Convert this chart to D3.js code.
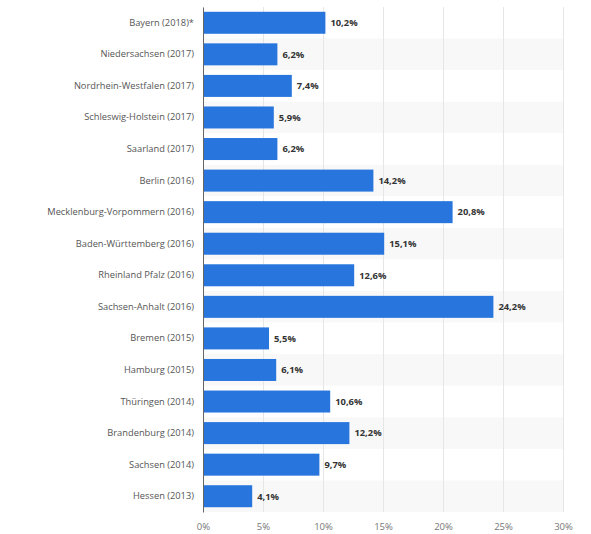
<!DOCTYPE html>
<html><head><meta charset="utf-8">
<script src="https://cdn.jsdelivr.net/npm/d3@7"></script>
<style>body{margin:0;background:#fff;}svg{display:block;font-family:"Open Sans",sans-serif;}</style>
</head><body><svg id="c" width="591" height="534"></svg>
<script>
const categories = ["Bayern (2018)*","Niedersachsen (2017)","Nordrhein-Westfalen (2017)","Schleswig-Holstein (2017)","Saarland (2017)","Berlin (2016)","Mecklenburg-Vorpommern (2016)","Baden-Württemberg (2016)","Rheinland Pfalz (2016)","Sachsen-Anhalt (2016)","Bremen (2015)","Hamburg (2015)","Thüringen (2014)","Brandenburg (2014)","Sachsen (2014)","Hessen (2013)"];
const values = [10.2,6.2,7.4,5.9,6.2,14.2,20.8,15.1,12.6,24.2,5.5,6.1,10.6,12.2,9.7,4.1];
const ticks = [0,5,10,15,20,25,30];

(function(){
const svg = d3.select("#c");
const mL = 203, mR = 563, mT = 7, mB = 512;
const x = d3.scaleLinear().domain([0,30]).range([mL,mR]);
const y = d3.scaleBand().domain(categories).range([mT,mB]).paddingInner(0).paddingOuter(0);
const fmt = v => d3.format(".1f")(v).replace(".", ",") + "%";

svg.append("g").selectAll("rect").data(categories).join("rect")
  .attr("x", mL).attr("width", mR-mL)
  .attr("y", d => y(d)).attr("height", y.bandwidth())
  .attr("fill", (d,i) => i%2===1 ? "#f8f8f8" : "#fff");

const xAxis = d3.axisBottom(x).tickValues(ticks).tickSize(-(mB-mT)).tickFormat(d => d+"%");
const gx = svg.append("g").attr("transform",`translate(0,${mB})`).call(xAxis);
gx.select(".domain").remove();
gx.selectAll(".tick line").attr("stroke","#e6e6e6");
gx.selectAll(".tick text").attr("fill","#777").attr("font-size","9.5px").attr("font-family","Open Sans, sans-serif").attr("dy","1.55em");

const bh = 22;
svg.append("g").selectAll("rect").data(values).join("rect")
  .attr("x", mL).attr("y",(d,i)=> y(categories[i]) + (y.bandwidth()-bh)/2)
  .attr("width", d => x(d)-mL).attr("height", bh).attr("fill","#2876dd");

svg.append("g").selectAll("text").data(values).join("text")
  .attr("x", d => x(d)+5).attr("y",(d,i)=> y(categories[i]) + y.bandwidth()/2)
  .attr("dy","0.35em").attr("font-size","9.4px").attr("font-weight","bold").attr("fill","#333")
  .text(fmt);

const yAxis = d3.axisLeft(y).tickSize(0).tickPadding(9);
const gy = svg.append("g").attr("transform",`translate(${mL},0)`).call(yAxis);
gy.select(".domain").attr("stroke","#666");
gy.selectAll(".tick text").attr("fill","#555").attr("font-size","9.3px").attr("font-family","Open Sans, sans-serif");
})();
</script></body></html>
